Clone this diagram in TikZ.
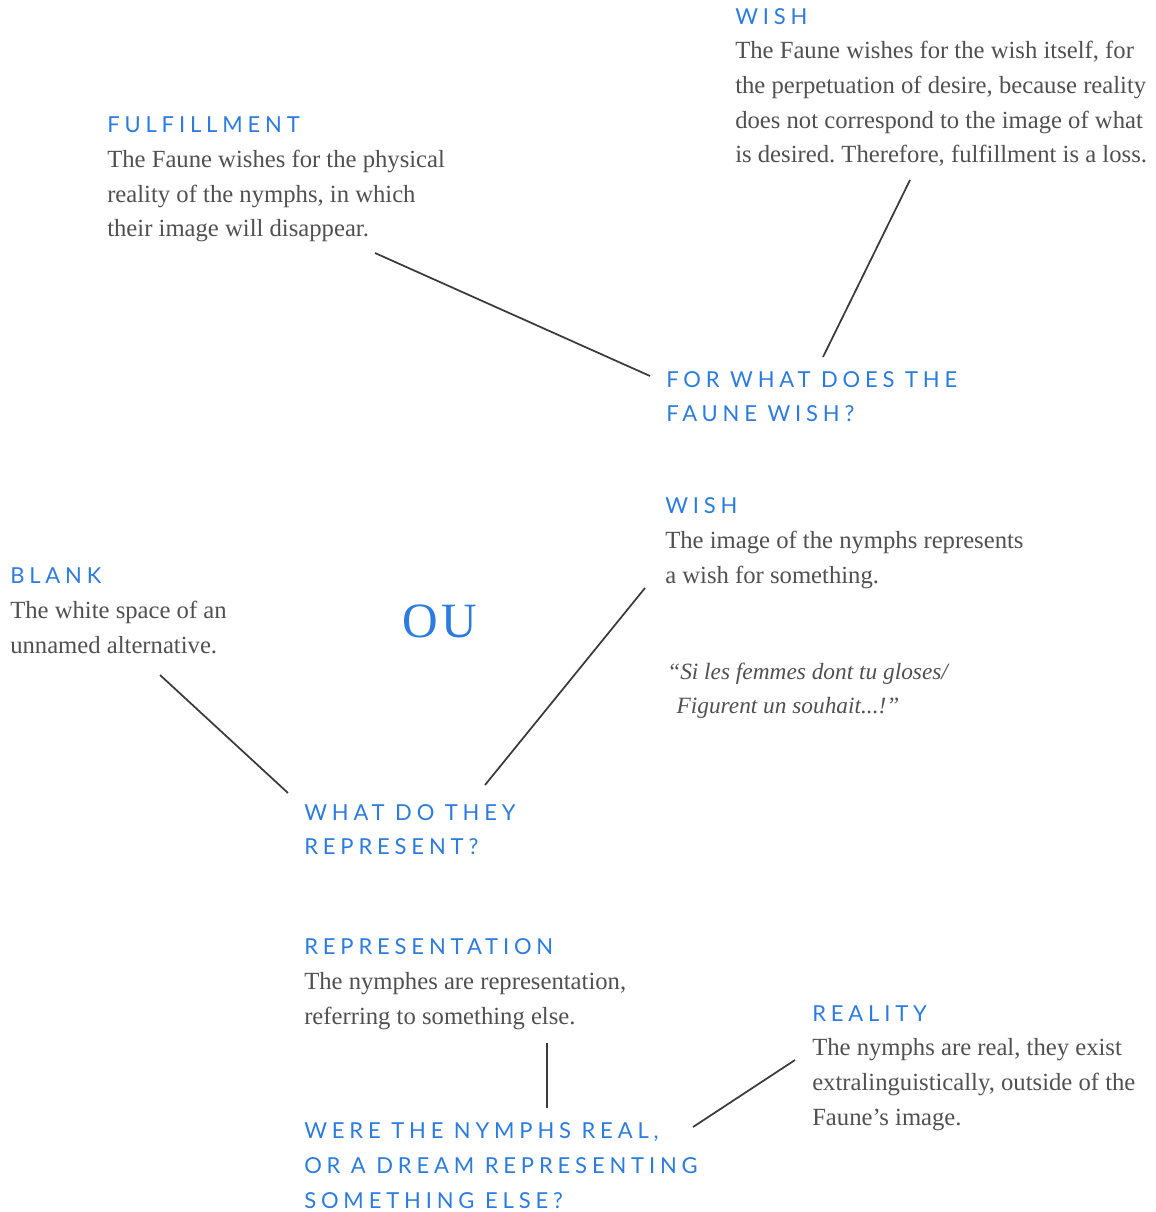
\documentclass[tikz,border=0pt]{standalone}
\usepackage{fontspec}
\setmainfont{Liberation Serif}
\newfontfamily\hfont[LetterSpace=22]{Lato}
\newfontfamily\oufont[LetterSpace=8]{Liberation Serif}
\definecolor{hblue}{HTML}{2B7BE0}
\definecolor{tgray}{HTML}{505050}
\definecolor{lgray}{HTML}{3A3A3A}
\frenchspacing
\newcommand{\hd}[1]{{\hfont\fontsize{16.5pt}{26pt}\selectfont\color{hblue}#1}}
\tikzset{
  block/.style={anchor=base west, align=left, inner sep=0pt, text=tgray,
    font=\fontsize{18.5pt}{26pt}\selectfont\frenchspacing},
  qblock/.style={anchor=base west, align=left, inner sep=0pt, text=hblue,
    font=\hfont\fontsize{16.5pt}{26pt}\selectfont},
  link/.style={draw=lgray, line width=1.3pt}
}
\begin{document}
\begin{tikzpicture}[x=0.75pt,y=-0.75pt]
\useasboundingbox (0,0) rectangle (1155,1212);

% anchors are at the baseline of the LAST line of each block
\node[block] (wishtop) at (735,162.7) {\hd{WISH}\\The Faune wishes for the wish itself, for\\the perpetuation of desire, because reality\\does not correspond to the image of what\\is desired. Therefore, fulfillment is a loss.};

\node[block] (fulfil) at (107,237) {\hd{FULFILLMENT}\\The Faune wishes for the physical\\reality of the nymphs, in which\\their image will disappear.};

\node[qblock] (faune) at (666,421.7) {FOR WHAT DOES THE\\FAUNE WISH?};

\node[block] (wishmid) at (665,583.3) {\hd{WISH}\\The image of the nymphs represents\\a wish for something.};

\node[block] (blank) at (10,653.3) {\hd{BLANK}\\The white space of an\\unnamed alternative.};

\node[anchor=base, inner sep=0pt, text=hblue, font=\oufont\fontsize{37pt}{37pt}\selectfont] (ou) at (440,637) {OU};

\node[block, font=\itshape\fontsize{17.5pt}{26pt}\selectfont\frenchspacing] (quote) at (667,713.7) {``Si les femmes dont tu gloses/\\\hspace{0.4em}Figurent un souhait...!''};

\node[qblock] (represent) at (304,854.7) {WHAT DO THEY\\REPRESENT?};

\node[block] (repr) at (304,1024.3) {\hd{REPRESENTATION}\\The nymphes are representation,\\referring to something else.};

\node[block] (reality) at (812,1125) {\hd{REALITY}\\The nymphs are real, they exist\\extralinguistically, outside of the\\Faune's image.};

\node[qblock] (were) at (304,1208.3) {WERE THE NYMPHS REAL,\\OR A DREAM REPRESENTING\\SOMETHING ELSE?};

% connector end points
\coordinate (fulfilE) at (375,253);
\coordinate (fauneA) at (650,376);
\coordinate (wishtopE) at (910,180);
\coordinate (fauneB) at (823,357);
\coordinate (blankE) at (160,675);
\coordinate (representA) at (288,793);
\coordinate (wishmidE) at (645,588);
\coordinate (representB) at (485,785);
\coordinate (reprE) at (547,1043);
\coordinate (wereA) at (547,1108);
\coordinate (realityE) at (795,1060);
\coordinate (wereB) at (693,1127);

\draw[link] (fulfilE) -- (fauneA);
\draw[link] (wishtopE) -- (fauneB);
\draw[link] (blankE) -- (representA);
\draw[link] (wishmidE) -- (representB);
\draw[link] (reprE) -- (wereA);
\draw[link] (realityE) -- (wereB);
\end{tikzpicture}
\end{document}
